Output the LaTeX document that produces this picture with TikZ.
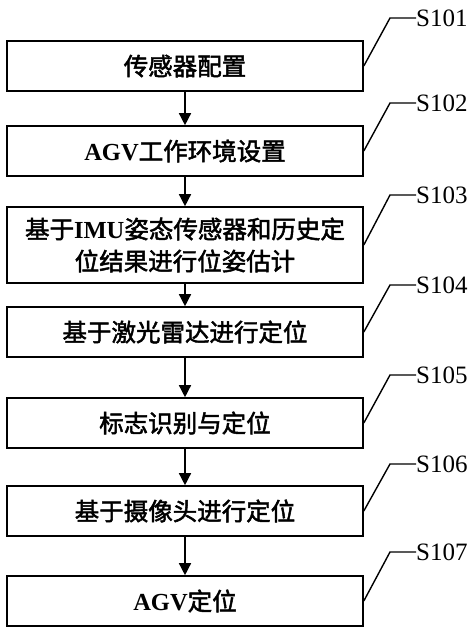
\documentclass[tikz,border=0pt]{standalone}
\usepackage{fontspec}
\setmainfont{Liberation Serif}
\newfontfamily\cjk[FakeBold=2]{Noto Sans CJK SC}
\usetikzlibrary{arrows.meta}
\tikzset{
  stepbox/.style={draw, line width=1.6pt, minimum width=356pt, minimum height=50pt,
    align=center, inner sep=0pt, font=\fontsize{24.5}{32}\selectfont},
  steplabel/.style={anchor=west, inner sep=0pt, font=\fontsize{25}{28}\selectfont}
}
\begin{document}
\begin{tikzpicture}[x=1pt,y=1pt]
      \useasboundingbox (0,0) rectangle (474,-634);
      \draw
        (185,-66) node[stepbox] (b1){\cjk 传感器配置}
        (185,-151) node[stepbox] (b2){\textbf{AGV}\cjk 工作环境设置}
        (185,-245) node[stepbox, minimum height=76pt] (b3){\cjk 基于\textbf{\rmfamily IMU}姿态传感器和历史定\\\cjk 位结果进行位姿估计}
        (185,-332) node[stepbox] (b4){\cjk 基于激光雷达进行定位}
        (185,-423) node[stepbox] (b5){\cjk 标志识别与定位}
        (185,-511) node[stepbox] (b6){\cjk 基于摄像头进行定位}
        (185,-601) node[stepbox] (b7){\textbf{AGV}\cjk 定位};
      \draw
        (416,-18) node[steplabel] (s1){S101}
        (416,-103) node[steplabel] (s2){S102}
        (416,-195) node[steplabel] (s3){S103}
        (416,-285) node[steplabel] (s4){S104}
        (416,-375) node[steplabel] (s5){S105}
        (416,-464) node[steplabel] (s6){S106}
        (416,-552) node[steplabel] (s7){S107};
      \begin{scope}[line width=1.4pt, -{Triangle[length=12pt,width=12pt]}]
        \draw (b1) to (b2);
        \draw (b2) to (b3);
        \draw (b3) to (b4);
        \draw (b4) to (b5);
        \draw (b5) to (b6);
        \draw (b6) to (b7);
      \end{scope}
      \begin{scope}[line width=1.4pt]
        \draw (b1.east) -- ([xshift=-26pt]s1.west) -- (s1.west);
        \draw (b2.east) -- ([xshift=-26pt]s2.west) -- (s2.west);
        \draw (b3.east) -- ([xshift=-26pt]s3.west) -- (s3.west);
        \draw (b4.east) -- ([xshift=-26pt]s4.west) -- (s4.west);
        \draw (b5.east) -- ([xshift=-26pt]s5.west) -- (s5.west);
        \draw (b6.east) -- ([xshift=-26pt]s6.west) -- (s6.west);
        \draw (b7.east) -- ([xshift=-26pt]s7.west) -- (s7.west);
      \end{scope}
    \end{tikzpicture}
\end{document}
